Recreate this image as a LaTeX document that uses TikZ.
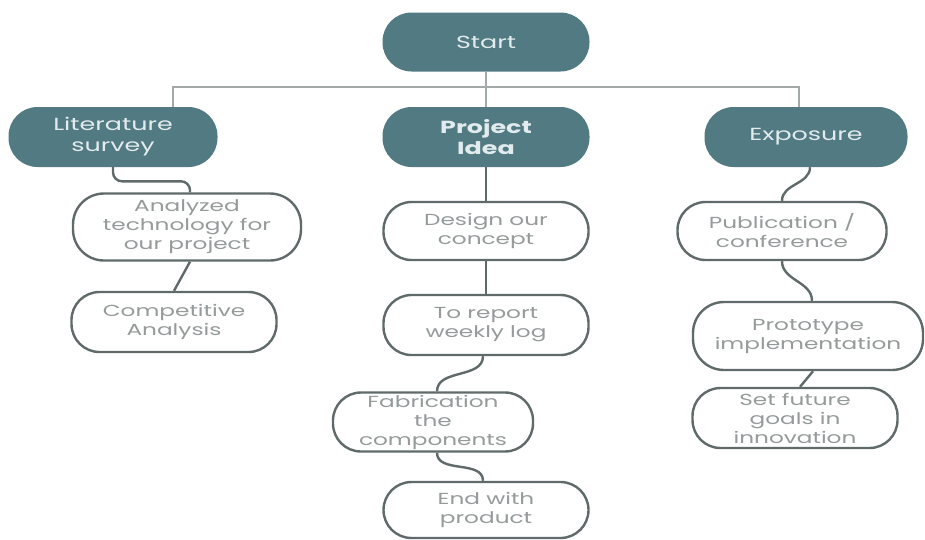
\documentclass[tikz,border=0pt]{standalone}
\usepackage{fontspec}
\setmainfont{Poppins}[FakeStretch=1.45]
\usetikzlibrary{positioning,calc}
\definecolor{teal}{HTML}{527A82}
\definecolor{darktxt}{HTML}{E2ECEE}
\definecolor{lighttxt}{HTML}{959A9A}
\definecolor{edge}{HTML}{606A6A}
\definecolor{treeline}{HTML}{A3A9A9}
\tikzset{
  darkbox/.style={rectangle, fill=teal, draw=none, rounded corners=29pt,
    text=darktxt, align=center, inner sep=0pt,
    font=\fontsize{17.5pt}{21pt}\selectfont},
  lightbox/.style={rectangle, fill=white, draw=edge, line width=2.4pt, rounded corners=28pt,
    text=lighttxt, align=center, inner sep=0pt,
    font=\fontsize{16pt}{19pt}\selectfont},
  link/.style={draw=edge, line width=2.4pt},
  tree/.style={draw=treeline, line width=2pt},
}
\begin{document}
\begin{tikzpicture}[x=1pt,y=-1pt]
\useasboundingbox (0,0) rectangle (925,539);
\fill[white] (0,0) rectangle (925,539);
% top level
\node[darkbox, minimum width=207pt, minimum height=59pt] (start) at (486,42) {Start};
\node[darkbox, minimum width=209pt, minimum height=60pt] (lit) at (113,137) {Literature\\survey};
\node[darkbox, minimum width=207pt, minimum height=60pt, font=\fontsize{17.5pt}{21pt}\selectfont\bfseries] (idea) at (486,137) {Project\\Idea};
\node[darkbox, minimum width=203pt, minimum height=60pt] (exp) at (806,137) {Exposure};
% left column
\node[lightbox, minimum width=228pt, minimum height=67pt, rounded corners=31pt] (ana) at (187,227) {Analyzed\\technology for\\our project};
\node[lightbox, minimum width=205pt, minimum height=60pt] (comp) at (174,322) {Competitive\\Analysis};
% middle column
\node[lightbox, minimum width=205pt, minimum height=58pt] (design) at (486,231) {Design our\\concept};
\node[lightbox, minimum width=205pt, minimum height=60pt] (report) at (486,325) {To report\\weekly log};
\node[lightbox, minimum width=200pt, minimum height=59pt] (fab) at (433,422) {Fabrication\\the\\components};
\node[lightbox, minimum width=205pt, minimum height=56pt] (endp) at (486,510) {End with\\product};
% right column
\node[lightbox, minimum width=209pt, minimum height=58pt] (pub) at (782,231) {Publication /\\conference};
\node[lightbox, minimum width=230pt, minimum height=68pt, rounded corners=31pt] (proto) at (808,336) {Prototype\\implementation};
\node[lightbox, minimum width=205pt, minimum height=60pt] (setf) at (795,418) {Set future\\goals in\\innovation};
% tree lines
\coordinate (bl) at (173,87);
\coordinate (br) at (799,87);
\draw[tree] (start.south) -- (idea.north);
\draw[tree] (bl |- lit.north) -- (bl) -- (br) -- (br |- exp.north);
% connectors
\draw[link, rounded corners=9pt] (lit.south) |- ($(ana.north)+(3,-11)$) -- ($(ana.north)+(3,0)$);
\draw[link] ($(ana.south)+(3,0)$) -- (comp.north);
\draw[link] (idea.south) -- (design.north);
\draw[link] (design.south) -- (report.north);
\draw[link] ($(report.south)+(-3,0)$) to[out=-90,in=90] ($(fab.north)+(4,0)$);
\draw[link] ($(fab.south)+(4,0)$) to[out=-90,in=90] ($(endp.north)+(-3,0)$);
\draw[link] ($(exp.south)+(4,0)$) to[out=-90,in=90] (pub.north);
\draw[link] (pub.south) to[out=-90,in=90] ($(proto.north)+(4,0)$);
\draw[link] ($(proto.south)+(5,0)$) -- ($(setf.north)+(5,0)$);
\end{tikzpicture}
\end{document}
